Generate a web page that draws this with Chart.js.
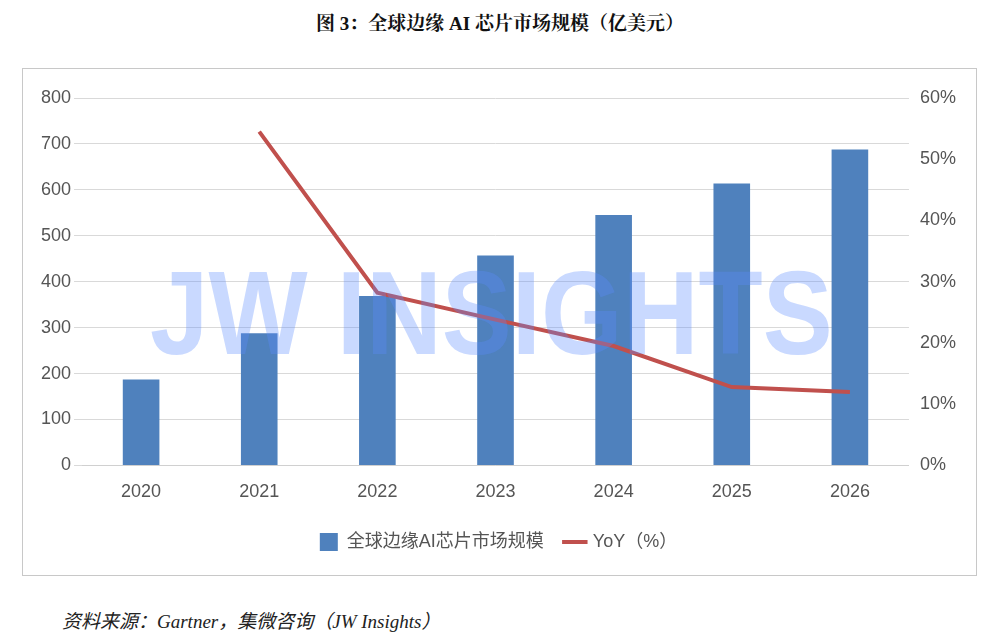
<!DOCTYPE html>
<html><head><meta charset="utf-8">
<script src="https://cdn.jsdelivr.net/npm/chart.js@4"></script>
<style>
body{margin:0;width:1000px;height:644px;background:#fff;position:relative;font-family:"Liberation Sans",Arial,sans-serif;}
#title{position:absolute;top:8px;left:0;width:1000px;text-align:center;font:bold 19px "Liberation Serif","Noto Serif CJK SC","Noto Sans CJK SC",serif;color:#111;}
#box{position:absolute;left:22px;top:68px;width:955px;height:508px;border:1px solid #c8c8c8;box-sizing:border-box;}
#wm{position:absolute;left:150px;top:245px;font:bold 118px "Liberation Sans",Arial,sans-serif;color:rgba(90,140,255,0.33);pointer-events:none;white-space:nowrap;transform-origin:0 0;transform:scaleX(0.89);}
#src{position:absolute;left:62px;top:606px;font:italic 19px "Liberation Serif","Noto Sans CJK SC",serif;color:#222;}
</style></head><body>
<div id="title">图 3：全球边缘 AI 芯片市场规模（亿美元）</div>
<div id="box"><canvas id="c" width="953" height="506"></canvas></div>
<div id="wm">JW INSIGHTS</div>
<div id="src">资料来源：Gartner，集微咨询（JW Insights）</div>
<script>
const categories=["2020","2021","2022","2023","2024","2025","2026"];
const marketSize=[187,288,369,457,545,614,688];
const yoy=[null,54.5,28.2,23.8,19.5,12.8,12.0];
new Chart(document.getElementById('c'),{
 data:{labels:categories,datasets:[
  {type:'line',label:'YoY（%）',data:yoy,yAxisID:'y2',borderColor:'#c0504d',backgroundColor:'#c0504d',borderWidth:4,pointRadius:0,pointStyle:'line',tension:0,order:0},
  {type:'bar',label:'全球边缘AI芯片市场规模',data:marketSize,yAxisID:'y',backgroundColor:'#4f81bd',barPercentage:0.31,categoryPercentage:1,pointStyle:'rect',order:1}
 ]},
 options:{responsive:false,animation:false,
  layout:{padding:{left:15,right:17,top:29,bottom:14}},
  plugins:{legend:{position:'bottom',reverse:true,labels:{usePointStyle:true,font:{size:18,family:'"Liberation Sans","Noto Sans CJK SC",sans-serif'},color:'#555',padding:22}},tooltip:{enabled:false}},
  scales:{
   x:{grid:{display:false},border:{color:'#d0d0d0'},ticks:{color:'#555',font:{size:18},padding:8}},
   y:{position:'left',min:0,max:800,ticks:{stepSize:100,color:'#555',font:{size:18}},grid:{color:'#d9d9d9'},border:{display:false}},
   y2:{position:'right',min:0,max:60,ticks:{stepSize:10,callback:v=>v+'%',color:'#555',font:{size:18}},grid:{display:false},border:{display:false}}
  }}
});
</script></body></html>
